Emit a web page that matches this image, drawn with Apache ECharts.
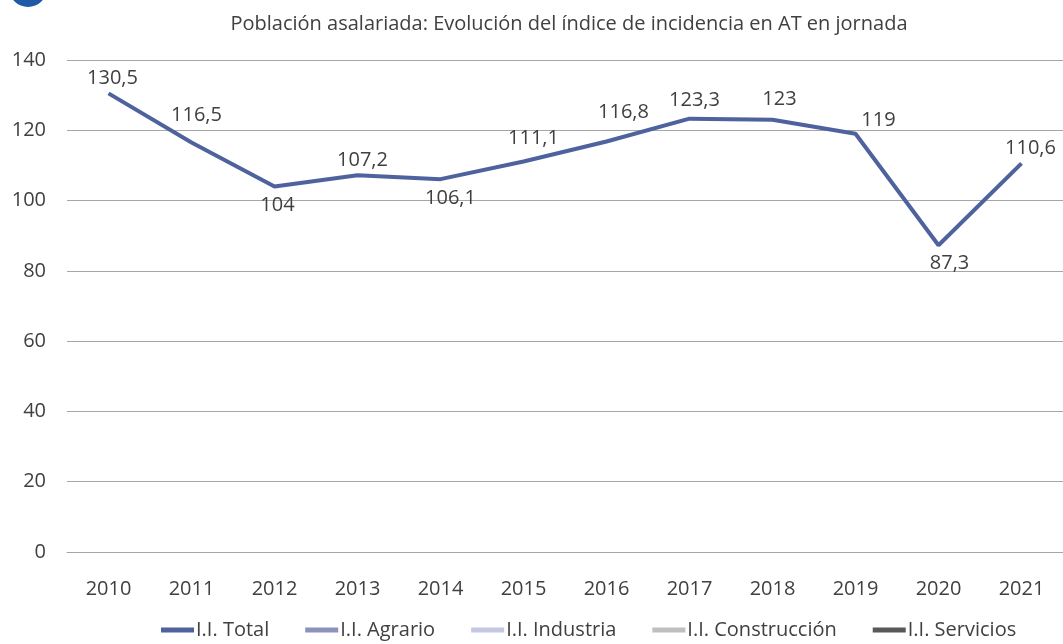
<!DOCTYPE html>
<html>
<head>
<meta charset="utf-8">
<script src="https://cdn.jsdelivr.net/npm/echarts@6/dist/echarts.min.js"></script>
<style>
  html, body { margin: 0; padding: 0; background: #fff; }
  #chart { width: 1063px; height: 644px; }
</style>
</head>
<body>
<div id="chart"></div>
<script>
const years = ['2010', '2011', '2012', '2013', '2014', '2015', '2016', '2017', '2018', '2019', '2020', '2021']
const iiTotal = [130.5, 116.5, 104, 107.2, 106.1, 111.1, 116.8, 123.3, 123, 119, 87.3, 110.6]
// the other indices appear only in the legend
const iiAgrario = []
const iiIndustria = []
const iiConstruccion = []
const iiServicios = []

const seriesNames = ['I.I. Total', 'I.I. Agrario', 'I.I. Industria', 'I.I. Construcción', 'I.I. Servicios']
const seriesColors = ['#4e629e', '#8b93bd', '#c5c8e2', '#bfbfbf', '#595959']

// hand placement of the data labels, like in the original sheet: [position, dx, dy]
const labelTweaks = [
  ['top', 4, 1], ['top', 5, -11], ['bottom', 3, 3], ['top', 5, 1],
  ['bottom', 10, 3], ['top', 10, -7], ['top', 17, -13], ['top', 5, -2],
  ['top', 7, -4], ['top', 23, 2], ['bottom', 11, 2], ['top', 9, 1]
]

const textColor = '#404040'
const fontFamily = '"Open Sans", Lato, sans-serif'

const chart = echarts.init(document.getElementById('chart'))

const totalData = iiTotal.map((v, i) => ({
  value: v,
  label: {
    position: labelTweaks[i][0],
    offset: [labelTweaks[i][1], labelTweaks[i][2]]
  }
}))

const allSeries = [iiTotal, iiAgrario, iiIndustria, iiConstruccion, iiServicios].map((arr, i) => ({
  name: seriesNames[i],
  type: 'line',
  data: i === 0 ? totalData : arr,
  symbol: 'circle',
  symbolSize: 0,
  showSymbol: true,
  lineStyle: { width: 4, color: seriesColors[i] },
  itemStyle: { color: seriesColors[i] },
  label: {
    show: i === 0,
    distance: 6,
    color: textColor,
    fontSize: 20,
    fontFamily: fontFamily,
    formatter: p => String(p.value).replace('.', ',')
  },
  emphasis: { disabled: true },
  animation: false
}))

chart.setOption({
  backgroundColor: '#fff',
  title: {
    text: 'Población asalariada: Evolución del índice de incidencia en AT en jornada',
    left: 564,
    top: 9,
    textAlign: 'center',
    textStyle: { color: textColor, fontSize: 20, fontWeight: 'normal', fontFamily: fontFamily }
  },
  graphic: [{
    type: 'circle',
    shape: { cx: 28, cy: -12, r: 19 },
    style: { fill: '#1f5aa6' }
  }],
  legend: {
    bottom: -1,
    left: 156,
    icon: 'rect',
    itemWidth: 33,
    itemHeight: 5,
    itemGap: 36,
    textStyle: { color: textColor, fontSize: 20, fontFamily: fontFamily, padding: [0, 0, 0, -3] },
    data: seriesNames
  },
  grid: { left: 67, top: 60, width: 1002, height: 492 },
  xAxis: {
    type: 'category',
    data: years,
    boundaryGap: true,
    axisLine: { show: true, lineStyle: { color: '#a6a6a6', width: 1 } },
    axisTick: { show: false },
    axisLabel: { color: textColor, fontSize: 20, fontFamily: fontFamily, margin: 27 }
  },
  yAxis: {
    type: 'value',
    min: 0,
    max: 140,
    interval: 20,
    axisLine: { show: false },
    axisTick: { show: false },
    axisLabel: { color: textColor, fontSize: 20, fontFamily: fontFamily, margin: 21 },
    splitLine: { lineStyle: { color: '#a6a6a6', width: 1 } }
  },
  series: allSeries
})
</script>
</body>
</html>
